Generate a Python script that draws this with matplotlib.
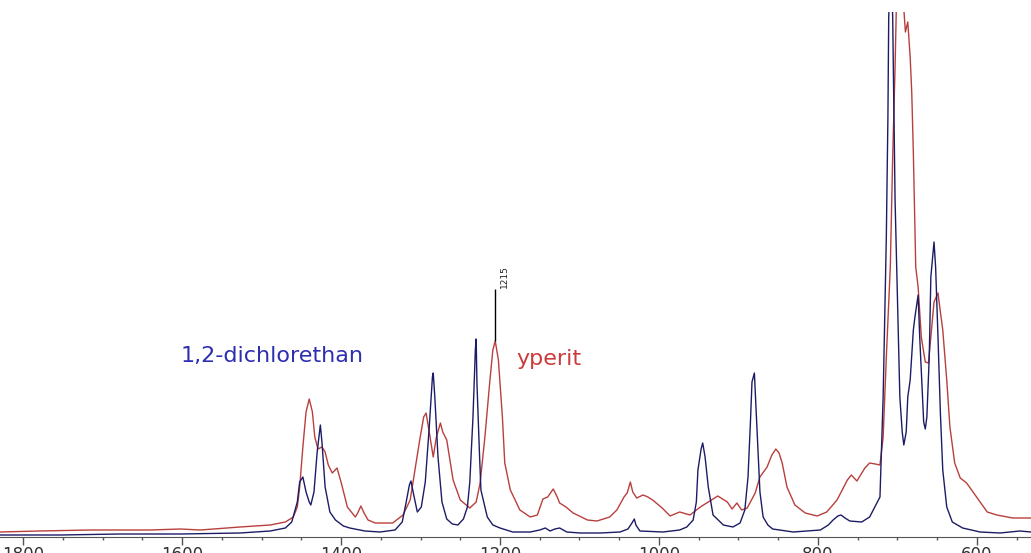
import matplotlib
matplotlib.use("Agg")
import matplotlib.pyplot as plt
import numpy as np
from matplotlib.ticker import MultipleLocator

# spektra (vlnočet cm-1, intenzita v relativních jednotkách)
blue_wn = [1829, 1753, 1678, 1602, 1527, 1489, 1470, 1462, 1455, 1452,
           1448, 1444, 1440, 1438, 1434, 1430, 1426, 1424, 1420, 1414,
           1407, 1397, 1389, 1370, 1351, 1332, 1323, 1318, 1314, 1312,
           1308, 1304, 1299, 1294, 1289, 1285, 1284, 1282, 1278, 1273,
           1267, 1260, 1253, 1246, 1241, 1238, 1234, 1231, 1230, 1229,
           1226, 1224, 1216, 1209, 1200, 1184, 1162, 1150, 1143, 1137,
           1131, 1125, 1116, 1099, 1074, 1049, 1039, 1034, 1031, 1029,
           1024, 995, 974, 965, 957, 953, 951, 947, 945, 942,
           938, 932, 919, 907, 898, 892, 888, 885, 883, 880,
           878, 875, 873, 869, 863, 857, 831, 797, 787, 781,
           775, 771, 766, 760, 745, 735, 726, 722, 718, 714,
           712, 711, 708, 706, 703, 699, 697, 694, 692, 689,
           687, 684, 680, 678, 674, 672, 669, 667, 665, 663,
           660, 658, 654, 652, 649, 646, 643, 638, 631, 618,
           596, 571, 546, 532]
blue_int = [2, 2, 3, 3, 4, 6, 9, 15, 35, 55,
            60, 45, 35, 32, 45, 85, 112, 95, 50, 25,
            17, 11, 9, 6, 5, 7, 15, 35, 52, 56,
            40, 25, 30, 55, 110, 160, 164, 140, 80, 35,
            18, 13, 12, 18, 30, 55, 120, 187, 198, 154,
            87, 47, 20, 12, 9, 5, 5, 7, 9, 6,
            8, 9, 5, 4, 4, 5, 8, 14, 18, 12,
            6, 5, 7, 10, 17, 35, 67, 88, 94, 80,
            50, 22, 12, 10, 14, 27, 60, 114, 155, 164,
            130, 80, 45, 20, 12, 8, 5, 7, 12, 17,
            21, 22, 19, 16, 15, 20, 34, 40, 140, 300,
            420, 520, 580, 520, 337, 204, 140, 105, 92, 105,
            140, 157, 207, 220, 242, 200, 150, 115, 108, 120,
            180, 260, 295, 270, 200, 124, 67, 30, 15, 9,
            5, 4, 6, 5]

red_wn = [1829, 1779, 1716, 1640, 1602, 1577, 1527, 1489, 1470, 1460,
          1455, 1452, 1448, 1444, 1440, 1436, 1433, 1429, 1424, 1420,
          1416, 1411, 1405, 1400, 1392, 1382, 1379, 1375, 1371, 1366,
          1357, 1335, 1322, 1313, 1307, 1301, 1296, 1293, 1289, 1284,
          1280, 1275, 1272, 1267, 1259, 1250, 1238, 1230, 1225, 1219,
          1213, 1209, 1206, 1202, 1197, 1194, 1187, 1175, 1162, 1153,
          1146, 1140, 1133, 1128, 1125, 1117, 1108, 1090, 1078, 1062,
          1053, 1044, 1040, 1036, 1033, 1028, 1020, 1014, 1008, 996,
          986, 974, 961, 948, 936, 926, 914, 908, 902, 896,
          889, 879, 873, 864, 858, 853, 849, 845, 839, 829,
          816, 801, 789, 776, 763, 758, 751, 741, 735, 728,
          722, 718, 714, 709, 706, 703, 701, 697, 693, 690,
          687, 684, 682, 680, 677, 674, 670, 665, 661, 658,
          654, 649, 646, 643, 638, 634, 628, 621, 613, 605,
          596, 587, 575, 555, 532]
red_int = [5, 6, 7, 7, 8, 7, 10, 12, 15, 20,
           30, 50, 90, 125, 138, 125, 100, 88, 90, 85,
           72, 64, 69, 55, 30, 20, 24, 31, 24, 17,
           14, 14, 22, 37, 67, 97, 120, 124, 105, 80,
           100, 114, 105, 97, 57, 37, 29, 35, 54, 100,
           154, 187, 196, 177, 120, 74, 47, 27, 20, 22,
           38, 40, 48, 40, 34, 30, 24, 17, 16, 20,
           27, 40, 44, 55, 45, 39, 42, 40, 37, 29,
           21, 25, 22, 30, 36, 41, 35, 28, 34, 27,
           29, 44, 60, 70, 82, 88, 84, 74, 50, 32,
           24, 21, 25, 37, 57, 62, 56, 69, 74, 73,
           72, 100, 180, 270, 380, 470, 545, 550, 540, 505,
           515, 480, 444, 384, 270, 250, 200, 175, 174, 200,
           235, 244, 225, 207, 157, 110, 74, 59, 54, 45,
           35, 25, 22, 19, 19]

x_ticks = [1800, 1600, 1400, 1200, 1000, 800, 600]
peak_label = "1215"

fig = plt.figure(figsize=(10.31, 5.53), dpi=100)
ax = fig.add_axes([0, 16 / 553, 1, 525 / 553])

ax.plot(red_wn, red_int, color="#b8403c", lw=1.0)
ax.plot(blue_wn, blue_int, color="#1c1c66", lw=1.0)

# značka u maxima yperitu
rw = np.array(red_wn)
ri = np.array(red_int)
sel = (rw > 1150) & (rw < 1260)
pk = np.argmax(np.where(sel, ri, -1))
ax.vlines(rw[pk], ri[pk], ri[pk] + 52, color="black", lw=1.0)
ax.annotate(peak_label, xy=(rw[pk], ri[pk] + 52), xytext=(7, 1),
            textcoords="offset points", rotation=90, ha="center", va="bottom",
            fontsize=6.5, color="#222222")

ax.text(1602, 175, "1,2-dichlorethan", color="#2e2eb0", fontsize=16,
        ha="left", va="baseline")
ax.text(1179, 172, "yperit", color="#cc3b3b", fontsize=16,
        ha="left", va="baseline")

ax.set_xlim(1829, 532)
ax.set_ylim(0, 525)
ax.set_xticks(x_ticks)
ax.xaxis.set_minor_locator(MultipleLocator(50))
ax.set_yticks([])
for s in ["left", "right", "top"]:
    ax.spines[s].set_visible(False)
ax.spines["bottom"].set_color("#555555")
ax.tick_params(axis="x", which="major", length=6, width=1, color="#555555",
               pad=0.5, labelsize=12, labelcolor="#333333")
ax.tick_params(axis="x", which="minor", length=2.5, width=1, color="#555555")

fig.savefig("out.png", dpi=100)
